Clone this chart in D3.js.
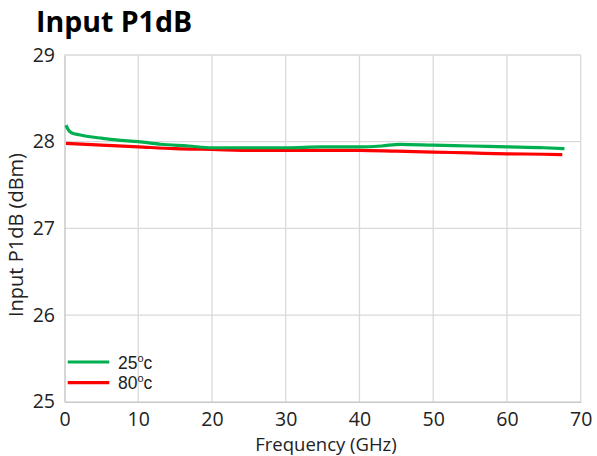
<!DOCTYPE html>
<html><head><meta charset="utf-8">
<script src="https://cdn.jsdelivr.net/npm/d3@7"></script>
<style>body{margin:0;background:#fff}svg{display:block}</style>
</head><body>
<svg id="c" width="597" height="456"></svg>
<script>
const freqGreen = [0.2, 0.5, 1.0, 2.0, 3.2, 5, 7, 10, 13, 16.8, 20, 25, 30, 35, 40, 43, 45.5, 50, 55, 60, 65, 67.8];
const p25 = [28.19, 28.14, 28.10, 28.08, 28.06, 28.04, 28.02, 28.00, 27.97, 27.95, 27.93, 27.93, 27.93, 27.94, 27.94, 27.95, 27.97, 27.96, 27.95, 27.94, 27.93, 27.92];
const freqRed = [0.2, 5, 10, 15, 20, 25.8, 30, 35, 40, 45, 50, 55, 60, 65, 67.5];
const p80 = [27.98, 27.96, 27.94, 27.92, 27.91, 27.90, 27.90, 27.90, 27.90, 27.89, 27.88, 27.87, 27.86, 27.855, 27.85];
const xTicks = [0, 10, 20, 30, 40, 50, 60, 70];
const yTicks = [25, 26, 27, 28, 29];
const seriesNames = ["25", "80"];
const seriesColors = ["#00B050", "#FF0000"];

const svg = d3.select("#c");
const font = "'Open Sans', 'Liberation Sans', sans-serif";
const x = d3.scaleLinear().domain([0, 70]).range([64.5, 580.7]);
const y = d3.scaleLinear().domain([25, 29]).range([401.7, 55]);

// gridlines
svg.append("g").selectAll("line").data(xTicks.slice(1)).join("line")
  .attr("x1", d => x(d)).attr("x2", d => x(d)).attr("y1", y(29)).attr("y2", y(25))
  .attr("stroke", "#d9d9d9").attr("stroke-width", 1.3);
svg.append("g").selectAll("line").data(yTicks.slice(1)).join("line")
  .attr("x1", x(0)).attr("x2", x(70)).attr("y1", d => y(d)).attr("y2", d => y(d))
  .attr("stroke", "#d9d9d9").attr("stroke-width", 1.3);

// axes
const xAxis = svg.append("g").attr("transform", `translate(0,${y(25)})`)
  .call(d3.axisBottom(x).tickValues(xTicks).tickFormat(d3.format("d")).tickSize(0).tickPadding(10));
const yAxis = svg.append("g").attr("transform", `translate(${x(0)},0)`)
  .call(d3.axisLeft(y).tickValues(yTicks).tickFormat(d3.format("d")).tickSize(0).tickPadding(9.5));
[xAxis, yAxis].forEach(g => {
  g.select(".domain").attr("stroke", "#c8c8c8").attr("stroke-width", 1.5);
  g.selectAll("text").attr("font-family", font).attr("font-size", 19.5).attr("fill", "#222");
});

// lines
const line = d3.line().x(d => x(d[0])).y(d => y(d[1])).curve(d3.curveMonotoneX);
const red = freqRed.map((f, i) => [f, p80[i]]);
const green = freqGreen.map((f, i) => [f, p25[i]]);
svg.append("path").datum(red).attr("d", line).attr("fill", "none")
  .attr("stroke", seriesColors[1]).attr("stroke-width", 3.2);
svg.append("path").datum(green).attr("d", line).attr("fill", "none")
  .attr("stroke", seriesColors[0]).attr("stroke-width", 3.2);

// legend
const leg = svg.append("g");
seriesNames.forEach((n, i) => {
  const yy = 362 + i * 20.7;
  leg.append("line").attr("x1", 67.7).attr("x2", 109.3).attr("y1", yy).attr("y2", yy)
    .attr("stroke", seriesColors[i]).attr("stroke-width", 3.2);
  const t = leg.append("text").attr("x", 118).attr("y", yy + 6.5)
    .attr("font-family", "'Liberation Sans', sans-serif").attr("font-size", 17.5).attr("fill", "#222");
  t.append("tspan").text(n);
  t.append("tspan").attr("font-size", 11).attr("dy", -7).text("o");
  t.append("tspan").attr("dy", 7).text("c");
});

// titles
svg.append("text").attr("x", 36).attr("y", 31.7).attr("font-family", font)
  .attr("font-weight", "bold").attr("font-size", 28.5).attr("fill", "#000").text("Input P1dB");
svg.append("text").attr("x", 326).attr("y", 451).attr("text-anchor", "middle")
  .attr("font-family", font).attr("font-size", 18.5).attr("fill", "#222").text("Frequency (GHz)");
svg.append("text").attr("transform", `translate(23,235) rotate(-90)`)
  .attr("text-anchor", "middle").attr("font-family", font).attr("font-size", 20)
  .attr("fill", "#222").text("Input P1dB (dBm)");
</script>
</body></html>
